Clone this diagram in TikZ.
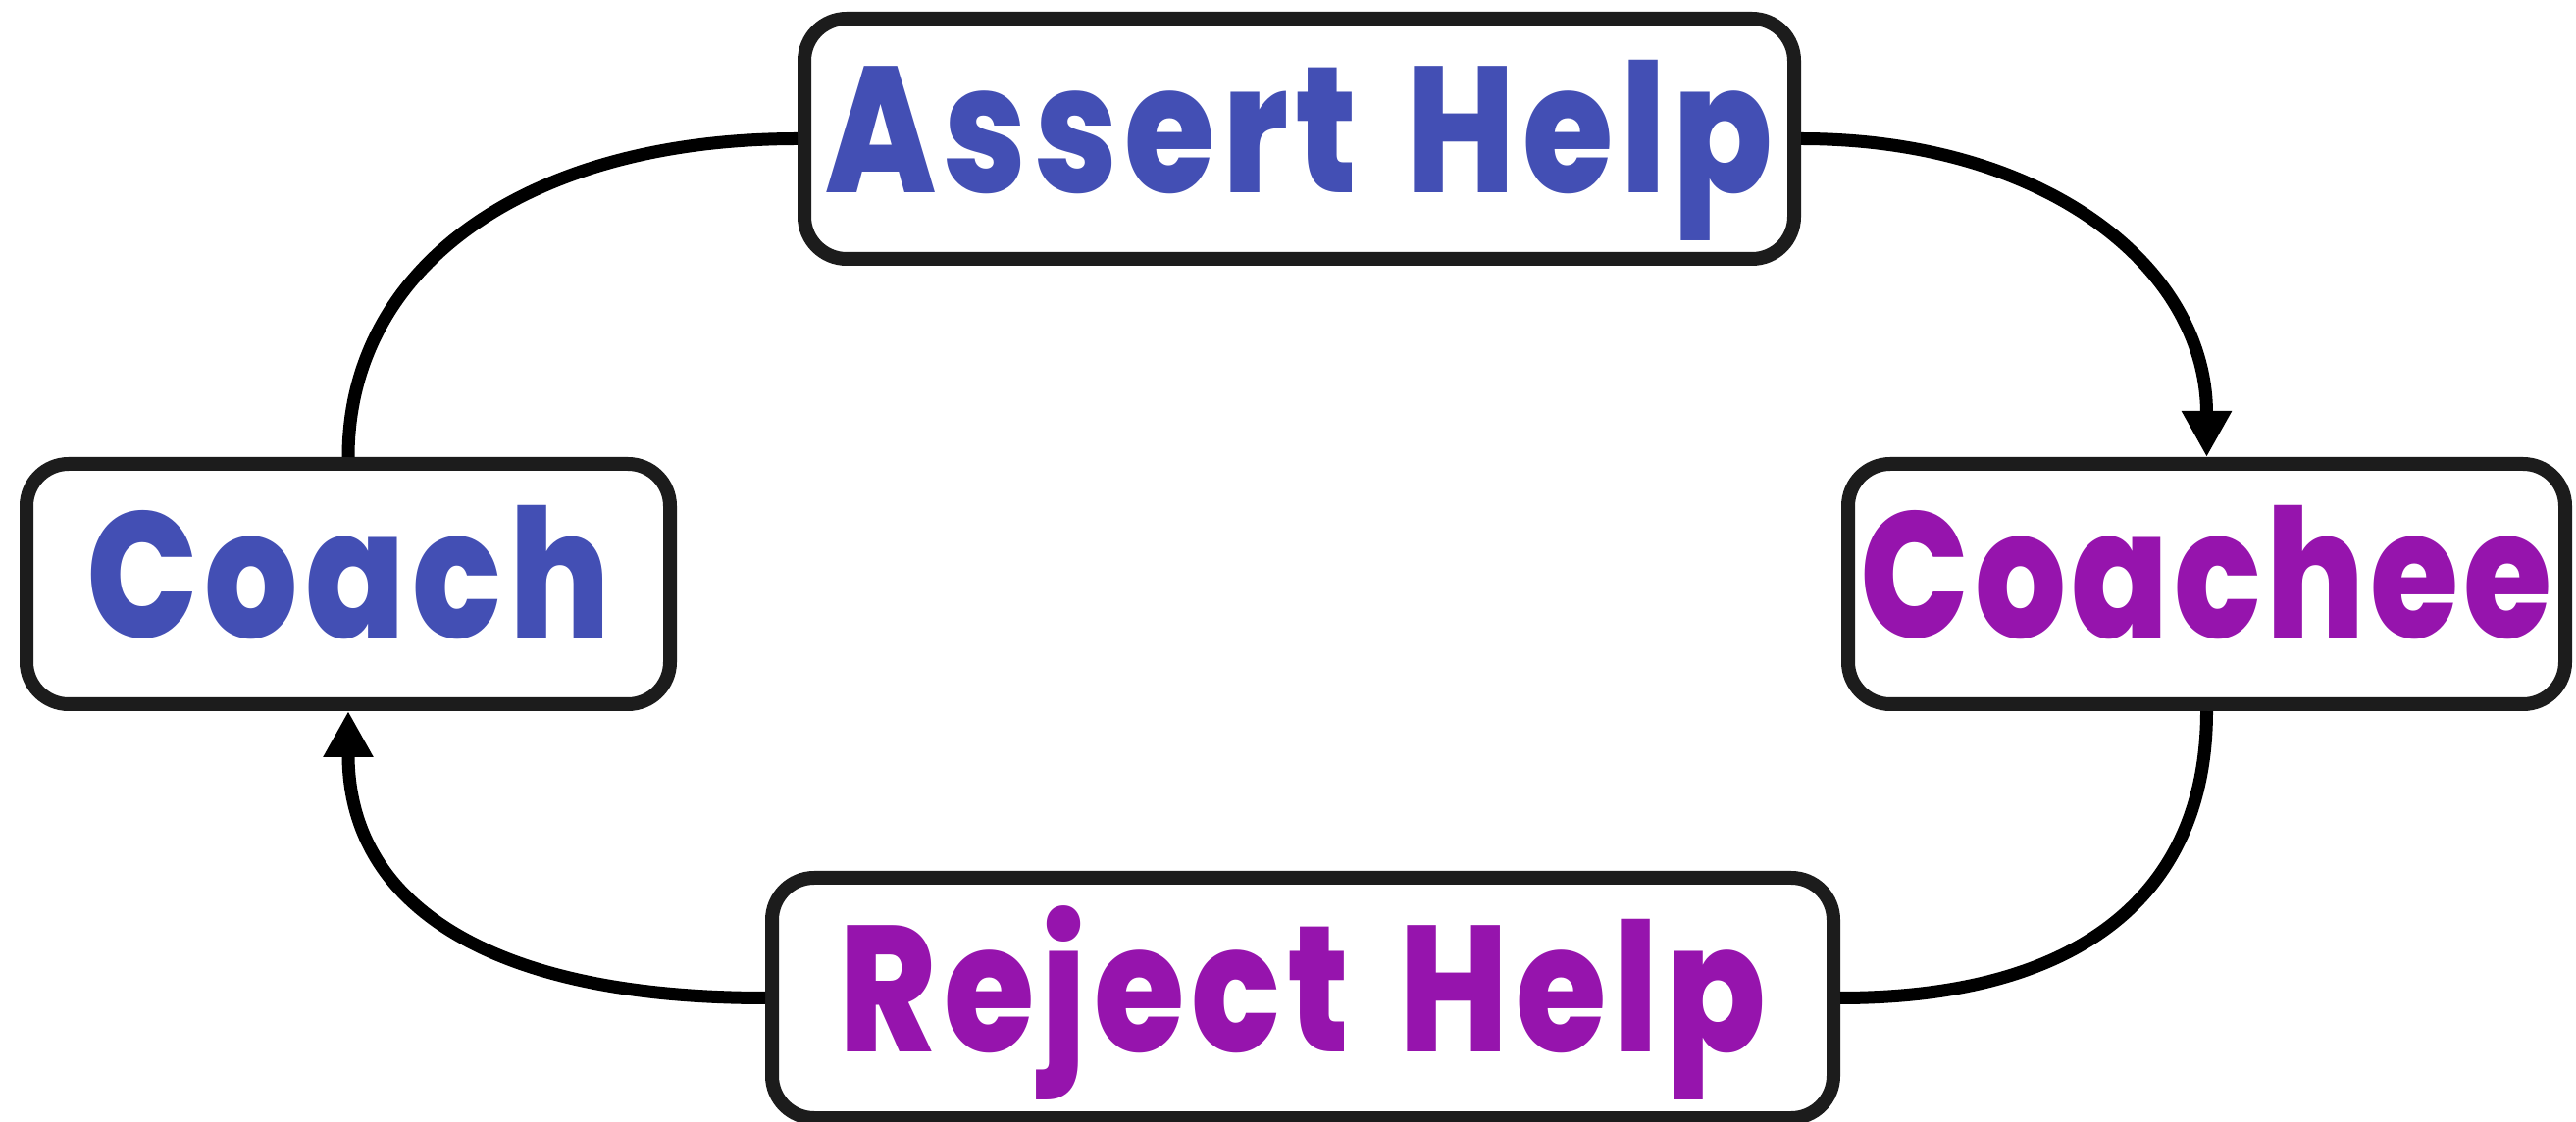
\documentclass[tikz,border=0pt]{standalone}
\usepackage{fontspec}
\setmainfont{Poppins}
\newfontfamily\lblfont{Poppins ExtraBold}[FakeStretch=0.82,LetterSpace=4,WordSpace=1.4]
\newfontfamily\lblfontn{Poppins ExtraBold}[FakeStretch=0.80,LetterSpace=3]
\usetikzlibrary{arrows.meta}
\definecolor{cblue}{RGB}{67,79,180}
\definecolor{cpurp}{RGB}{150,20,173}
\definecolor{cbord}{RGB}{28,28,28}
\begin{document}
\begin{tikzpicture}[
  box/.style={draw=cbord, line width=0.14cm, rounded corners=0.43cm, fill=white,
    inner sep=0pt, minimum height=2.45cm, text height=1.27cm, text depth=0.16cm,
    font=\lblfont\fontsize{52}{60}\selectfont},
  narrowbox/.style={box, font=\lblfontn\fontsize{52}{60}\selectfont},
  conn/.style={line width=0.13cm, black},
  tip/.style={-{Triangle[width=0.48cm,length=0.47cm]}}
]
\useasboundingbox[fill=white] (0,0) rectangle (26.26,-11.44);
\node[box, minimum width=10.09cm, text=cblue] (assert) at (13.245,-1.415) {Assert Help};
\node[box, minimum width=6.56cm, text=cblue] (coach) at (3.55,-5.955) {Coach};
\node[narrowbox, minimum width=7.31cm, text=cpurp] (coachee) at (22.495,-5.955) {Coachee};
\node[box, minimum width=10.82cm, text=cpurp] (reject) at (13.28,-10.175) {Reject Help};
\draw[conn] (coach.north) .. controls +(0,1.95) and +(-2.75,0) .. (assert.west);
\draw[conn,tip] (assert.east) .. controls +(2.48,0) and +(0,1.94) .. (coachee.north);
\draw[conn] (coachee.south) .. controls +(0,-1.9) and +(2.4,0) .. (reject.east);
\draw[conn,tip] (reject.west) .. controls +(-2.85,0) and +(0,-1.95) .. (coach.south);
\end{tikzpicture}
\end{document}
